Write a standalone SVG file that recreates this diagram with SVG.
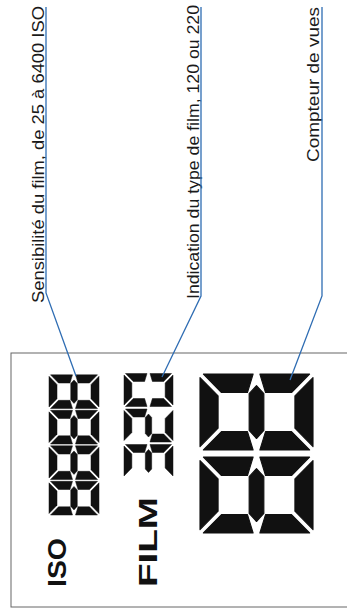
<svg xmlns="http://www.w3.org/2000/svg" xmlns:xlink="http://www.w3.org/1999/xlink" width="347" height="610" viewBox="0 0 347 610">
  <style>
    .lbl { font-family: "Liberation Sans", Arial, sans-serif; font-size: 16.5px; fill: #1a1a1a; }
    .lcdtxt { font-family: "Liberation Sans", Arial, sans-serif; font-weight: bold; font-size: 25.5px; fill: #111; }
    .lead { fill: none; stroke: #2f6db3; stroke-width: 1.3; }
    .seg { fill: #111; stroke: #111; stroke-width: 1; stroke-linejoin: round; }
    .frame { fill: none; stroke: #666; stroke-width: 1; }
  </style>
  <defs>
    <path id="sa" class="seg" d="M3,0 L63,0 L47,16 L19,16 Z"/>
    <path id="sd" class="seg" d="M3,100 L63,100 L47,84 L19,84 Z"/>
    <path id="sf" class="seg" d="M0,3 L16,19 L16,42 L0,47 Z"/>
    <path id="se" class="seg" d="M0,53 L16,58 L16,81 L0,97 Z"/>
    <path id="sb" class="seg" d="M66,3 L50,19 L50,42 L66,47 Z"/>
    <path id="sc" class="seg" d="M66,53 L50,58 L50,81 L66,97 Z"/>
    <path id="sg" class="seg" d="M10,50 L17,43.5 L49,43.5 L56,50 L49,56.5 L17,56.5 Z"/>
    <g id="d8"><use href="#sa"/><use href="#sb"/><use href="#sc"/><use href="#sd"/><use href="#se"/><use href="#sf"/><use href="#sg"/></g>
    <g id="d0"><use href="#sa"/><use href="#sb"/><use href="#sc"/><use href="#sd"/><use href="#se"/><use href="#sf"/></g>
    <g id="d2"><use href="#sa"/><use href="#sb"/><use href="#sg"/><use href="#se"/><use href="#sd"/></g>
    <g id="d3"><use href="#sa"/><use href="#sb"/><use href="#sc"/><use href="#sd"/><use href="#sg"/></g>
  </defs>

  <g id="lcd-panel">
    <rect class="frame" x="11" y="353" width="350" height="254"/>
    <text class="lcdtxt" transform="translate(66,587) rotate(-90)" textLength="49" lengthAdjust="spacingAndGlyphs">ISO</text>
    <text class="lcdtxt" transform="translate(157,587) rotate(-90)" textLength="90" lengthAdjust="spacingAndGlyphs">FILM</text>
    <g id="iso-digits">
      <use href="#d8" transform="translate(49,515) rotate(-90) scale(0.51,0.5)"/>
      <use href="#d8" transform="translate(49,479.5) rotate(-90) scale(0.51,0.5)"/>
      <use href="#d8" transform="translate(49,444) rotate(-90) scale(0.51,0.5)"/>
      <use href="#d8" transform="translate(49,408.5) rotate(-90) scale(0.51,0.5)"/>
    </g>
    <g id="film-digits">
      <use href="#d3" transform="translate(124,477.5) rotate(-90) scale(0.5,0.49)"/>
      <use href="#d2" transform="translate(124,442) rotate(-90) scale(0.5,0.49)"/>
      <use href="#d0" transform="translate(124,406.5) rotate(-90) scale(0.5,0.49)"/>
    </g>
    <g id="counter-digits">
      <use href="#d8" transform="translate(200,533) rotate(-90) scale(1.15,1.13)"/>
      <use href="#d8" transform="translate(200,450) rotate(-90) scale(1.15,1.13)"/>
    </g>
  </g>

  <g id="label-iso">
    <text class="lbl" transform="translate(43.8,303) rotate(-90)" textLength="297" lengthAdjust="spacingAndGlyphs">Sensibilité du film, de 25 à 6400 ISO</text>
  </g>
  <g id="label-film">
    <text class="lbl" transform="translate(198.8,299) rotate(-90)" textLength="294" lengthAdjust="spacingAndGlyphs">Indication du type de film, 120 ou 220</text>
  </g>
  <g id="label-counter">
    <text class="lbl" transform="translate(319.3,162) rotate(-90)" textLength="155" lengthAdjust="spacingAndGlyphs">Compteur de vues</text>
  </g>

  <g id="connectors">
    <polyline class="lead" points="46,7 46,293 76,376"/>
    <polyline class="lead" points="201,7 201,296 162,377"/>
    <polyline class="lead" points="322,7 322,296 290,380"/>
  </g>
</svg>
